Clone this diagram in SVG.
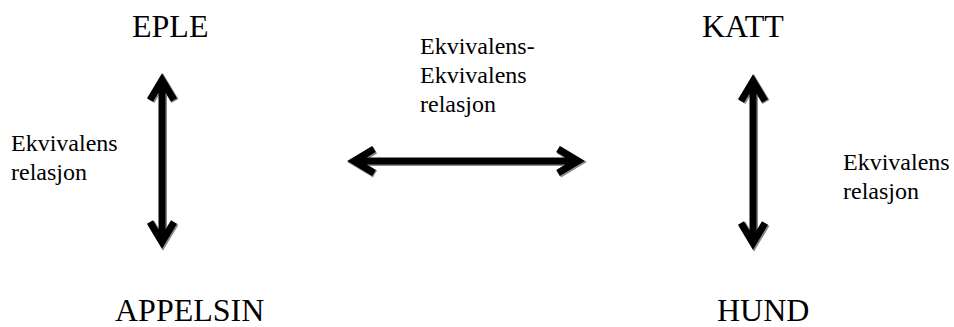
<svg xmlns="http://www.w3.org/2000/svg" width="954" height="327" viewBox="0 0 954 327">
  <style>
    .title { font-family: "Liberation Serif", "Times New Roman", serif; font-size: 32px; fill: #000; }
    .label { font-family: "Liberation Serif", "Times New Roman", serif; font-size: 24px; fill: #000; }
    .arrow { fill: none; stroke: #000; stroke-width: 7; stroke-linejoin: miter; stroke-miterlimit: 10; stroke-linecap: butt; }
    .shadow { fill: none; stroke: #8a8a8a; stroke-width: 8; stroke-linejoin: miter; stroke-miterlimit: 10; stroke-linecap: butt; }
  </style>
  <defs>
    <!-- double-headed arrow shapes: shaft plus a chevron head at each end -->
    <g id="vArrowShape">
      <path d="M0 0 V162 M-12 20 L0 0 L12 20 M-12 142 L0 162 L12 142"/>
    </g>
    <g id="hArrowShape">
      <path d="M0 0 H224 M20 -12 L0 0 L20 12 M204 -12 L224 0 L204 12"/>
    </g>
  </defs>

  <rect width="954" height="327" fill="#fff"/>

  <g id="connectors">
    <!-- EPLE <-> APPELSIN -->
    <g id="arrow-left">
      <use href="#vArrowShape" class="shadow" transform="translate(163,81)"/>
      <use href="#vArrowShape" class="arrow" transform="translate(162,80)"/>
    </g>
    <!-- centre equivalence arrow -->
    <g id="arrow-middle">
      <use href="#hArrowShape" class="shadow" transform="translate(355,162)"/>
      <use href="#hArrowShape" class="arrow" transform="translate(354,161)"/>
    </g>
    <!-- KATT <-> HUND -->
    <g id="arrow-right">
      <use href="#vArrowShape" class="shadow" transform="translate(754,82)"/>
      <use href="#vArrowShape" class="arrow" transform="translate(753,81)"/>
    </g>
  </g>

  <g id="node-eple"><text class="title" x="132" y="37">EPLE</text></g>
  <g id="node-appelsin"><text class="title" x="115" y="321">APPELSIN</text></g>
  <g id="node-katt"><text class="title" x="702" y="37">KATT</text></g>
  <g id="node-hund"><text class="title" x="717" y="321">HUND</text></g>

  <g id="label-left">
    <text class="label" x="11" y="151">Ekvivalens</text>
    <text class="label" x="11" y="180">relasjon</text>
  </g>
  <g id="label-middle">
    <text class="label" x="420" y="54">Ekvivalens-</text>
    <text class="label" x="420" y="83">Ekvivalens</text>
    <text class="label" x="420" y="112">relasjon</text>
  </g>
  <g id="label-right">
    <text class="label" x="843" y="170">Ekvivalens</text>
    <text class="label" x="843" y="199">relasjon</text>
  </g>
</svg>
